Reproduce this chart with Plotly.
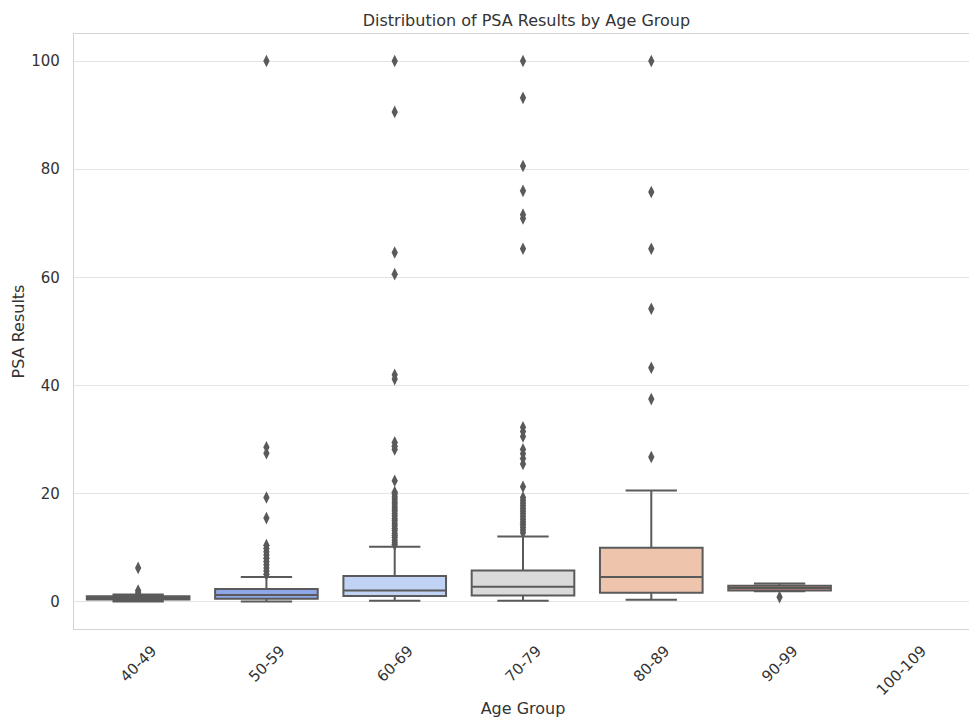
import plotly.graph_objects as go

age_groups = ["40-49", "50-59", "60-69", "70-79", "80-89", "90-99", "100-109"]

# box statistics per age group (100-109 has no data)
box_groups = ["40-49", "50-59", "60-69", "70-79", "80-89", "90-99"]
q1_vals = [0.45, 0.6, 1.1, 1.2, 1.7, 2.1]
median_vals = [0.7, 1.3, 2.1, 2.8, 4.6, 2.6]
q3_vals = [1.05, 2.4, 4.8, 5.8, 10.0, 3.0]
lower_vals = [0.1, 0.1, 0.2, 0.2, 0.4, 2.0]
upper_vals = [1.4, 4.6, 10.2, 12.1, 20.6, 3.4]
fill_colors = ["#6b84d8", "#8fa6e8", "#c0d3f5", "#dadada", "#efc4ad", "#dc9888"]

# outliers per age group
out_40_49 = [6.3, 2.1, 1.7]
out_50_59 = [100, 28.6, 27.5, 19.3, 15.5, 10.5, 9.9, 9.3, 8.7, 8.1, 7.5, 6.9, 6.3, 5.7, 5.1]
out_60_69 = [100, 90.6, 64.6, 60.6, 42.0, 41.2, 29.5, 28.8, 28.2, 22.4,
             20.3, 19.9, 19.4, 19.0, 18.5, 18.1, 17.6, 17.2, 16.8, 16.3, 15.9,
             15.4, 15.0, 14.5, 14.1, 13.6, 13.2, 12.7, 12.3, 11.9, 11.4, 11.0, 10.6]
out_70_79 = [100, 93.2, 80.6, 76.0, 71.6, 70.9, 65.3, 32.3, 31.5, 30.6, 28.2,
             27.4, 26.5, 25.5, 21.3, 19.3, 18.8, 18.3, 17.8, 17.3, 16.8, 16.3,
             15.8, 15.3, 14.8, 14.3, 13.8, 13.3, 12.8]
out_80_89 = [100, 75.8, 65.3, 54.2, 43.3, 37.5, 26.8]
out_90_99 = [0.9]

outliers = {
    "40-49": out_40_49,
    "50-59": out_50_59,
    "60-69": out_60_69,
    "70-79": out_70_79,
    "80-89": out_80_89,
    "90-99": out_90_99,
}

LINE = "#5a5a5a"
FONT = "DejaVu Sans"
TXT = "#333333"

# page body has an 8px default margin, so the figure is sized to fit the window
W, H = 969, 713

fig = go.Figure()

for i, g in enumerate(box_groups):
    fig.add_trace(go.Box(
        x=[g], q1=[q1_vals[i]], median=[median_vals[i]], q3=[q3_vals[i]],
        lowerfence=[lower_vals[i]], upperfence=[upper_vals[i]],
        fillcolor=fill_colors[i], line=dict(color=LINE, width=2),
        width=0.8, whiskerwidth=0.5, boxpoints=False, showlegend=False,
        hoverinfo="skip",
    ))

ox, oy = [], []
for g, vals in outliers.items():
    ox += [g] * len(vals)
    oy += vals

fig.add_trace(go.Scatter(
    x=ox, y=oy, mode="markers",
    marker=dict(symbol="diamond-tall", size=9, color=LINE, line=dict(width=0)),
    showlegend=False, hoverinfo="skip",
))

fig.update_layout(
    width=W, height=H,
    margin=dict(l=66, r=5, t=26, b=92, autoexpand=False),
    paper_bgcolor="white", plot_bgcolor="white",
    boxmode="overlay",
    font=dict(family=FONT, color=TXT, size=15),
    title=dict(text="Distribution of PSA Results by Age Group",
               x=0.535, xanchor="center", y=1 - 12 / H, yanchor="middle",
               yref="container", font=dict(size=16, color=TXT)),
)

fig.update_xaxes(
    type="category", categoryorder="array", categoryarray=age_groups,
    range=[-0.5, 6.5], tickangle=-45, ticklabelshift=14, ticklabelstandoff=6,
    showgrid=False, zeroline=False, showline=True, mirror=True,
    linecolor="#d3d3d3", linewidth=1.3, automargin=False,
    tickfont=dict(size=15, color=TXT),
    title=dict(text="Age Group", font=dict(size=16, color=TXT), standoff=4),
)
fig.update_yaxes(
    range=[-5, 105], tickvals=[0, 20, 40, 60, 80, 100],
    showgrid=True, gridcolor="#e3e3e3", gridwidth=1.2,
    zeroline=False, showline=True, mirror=True,
    linecolor="#d3d3d3", linewidth=1.3, automargin=False,
    tickfont=dict(size=15, color=TXT), ticklabelstandoff=10,
    title=dict(text="PSA Results", font=dict(size=16, color=TXT), standoff=2),
)

fig.write_html("out.html")
